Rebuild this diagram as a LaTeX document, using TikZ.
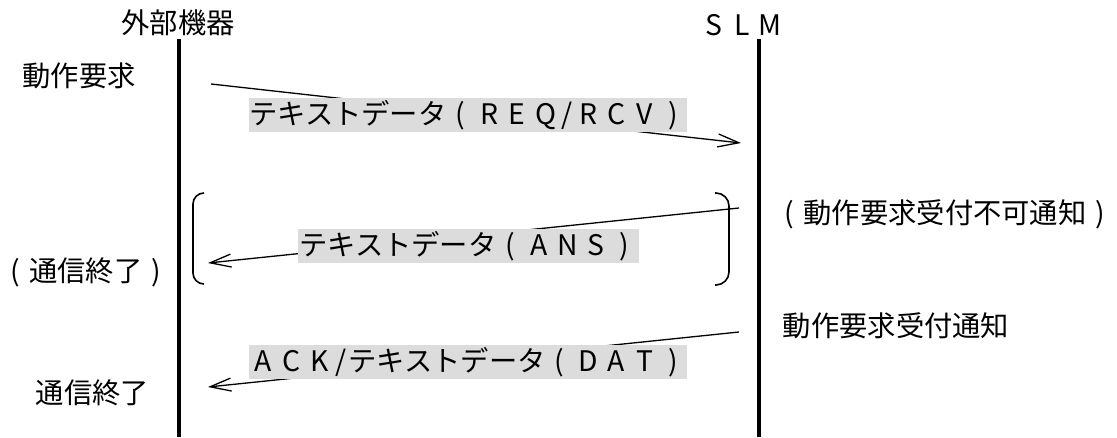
\documentclass[tikz,border=0pt]{standalone}
\usepackage{fontspec}
\setmainfont{Noto Sans CJK JP}
\usetikzlibrary{arrows.meta}
\newcommand\fw[1]{\makebox[1em][c]{#1}}
\newcommand\hw[1]{\makebox[0.5em][c]{#1}}
\definecolor{boxgray}{HTML}{DCDCDC}
\tikzset{
  txt/.style={inner sep=0pt, anchor=base, font=\fontsize{28.3pt}{34pt}\selectfont},
  msgbox/.style={txt, anchor=base west, fill=boxgray, inner xsep=0pt, inner ysep=1pt,
    text height=25pt, text depth=7pt, align=center},
  lifeline/.style={line width=4.5pt},
  msg/.style={line width=1.3pt, -{Straight Barb[length=21pt,width=13pt,line width=1.3pt]}},
  bracket/.style={line width=1.6pt},
}
\begin{document}
\begin{tikzpicture}[x=1pt,y=-1pt]
\useasboundingbox (0,0) rectangle (1117,437);
% headers
\node[txt] (hdrA) at (178,33) {外部機器};
\node[txt] (hdrB) at (742,35) {\fw{S}\fw{L}\fw{M}};
% lifelines
\coordinate (aTop) at (179,39);
\coordinate (aBot) at (179,437);
\coordinate (bTop) at (759,39);
\coordinate (bBot) at (759,437);
\draw[lifeline] (aTop) -- (aBot);
\draw[lifeline] (bTop) -- (bBot);
% side labels
\node[txt] (req) at (79,86) {動作要求};
\node[txt] (end1) at (86,281) {\fw{(}通信終了\fw{)}};
\node[txt] (end2) at (92.5,403) {通信終了};
\node[txt] (nak) at (945,223) {\fw{(}動作要求受付不可通知\fw{)}};
\node[txt] (ack) at (896,336) {動作要求受付通知};
% message endpoints
\coordinate (m1s) at (211,84);
\coordinate (m1e) at (741,143);
\coordinate (m2s) at (739,208);
\coordinate (m2e) at (208,263);
\coordinate (m3s) at (739,332);
\coordinate (m3e) at (208,387);
\draw[msg] (m1s) -- (m1e);
\draw[msg] (m2s) -- (m2e);
\draw[msg] (m3s) -- (m3e);
% labels with gray background
\node[msgbox, minimum width=438pt] (lab1) at (249,124)
  {テキストデータ\fw{(}\fw{R}\fw{E}\fw{Q}\hw{/}\fw{R}\fw{C}\fw{V}\fw{)}};
\node[msgbox, minimum width=341pt] (lab2) at (298,255)
  {テキストデータ\fw{(}\fw{A}\fw{N}\fw{S}\fw{)}};
\node[msgbox, minimum width=438pt] (lab3) at (249,371)
  {\fw{A}\fw{C}\fw{K}\hw{/}テキストデータ\fw{(}\fw{D}\fw{A}\fw{T}\fw{)}};
% brackets
\draw[bracket, rounded corners=11pt] (204,193) -- (193,193) -- (193,284) -- (204,284);
\draw[bracket, rounded corners=13pt] (715,193) -- (729,193) -- (729,285) -- (715,285);
\end{tikzpicture}
\end{document}
